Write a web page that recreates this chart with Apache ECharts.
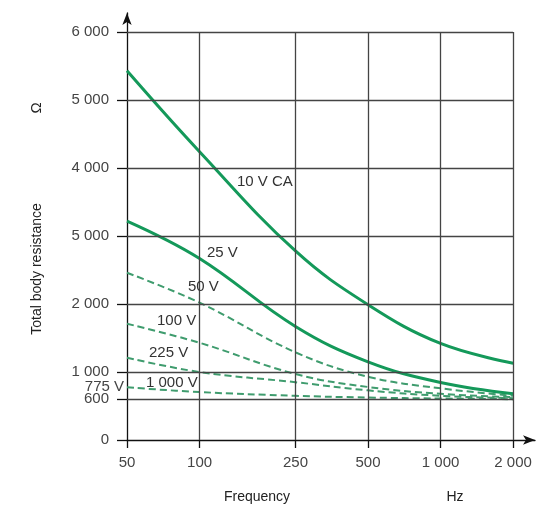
<!DOCTYPE html>
<html><head><meta charset="utf-8">
<script src="https://cdn.jsdelivr.net/npm/echarts@6/dist/echarts.min.js"></script>
<style>html,body{margin:0;padding:0;background:#fff}#c{width:541px;height:509px}</style>
</head><body><div id="c"></div>
<script>
// ---- data ----
const frequencies = [50, 100, 250, 500, 1000, 2000];
const xTickLabels = ['50', '100', '250', '500', '1 000', '2 000'];
const yTickValues = [0, 600, 775, 1000, 2000, 3000, 4000, 5000, 6000];
const yTickLabels = ['0', '600', '775 V', '1 000', '2 000', '5 000', '4 000', '5 000', '6 000'];
const yTickMarks = [0, 600, 1000, 2000, 3000, 4000, 5000, 6000];
const gridYValues = [600, 1000, 2000, 3000, 4000, 5000, 6000];
const gridXValues = [100, 250, 500, 1000, 2000];
const seriesNames = ['10 V CA', '25 V', '50 V', '100 V', '225 V', '1 000 V'];
const r10V = [5430, 4240, 2780, 1990, 1420, 1130];
const r25V = [3220, 2670, 1670, 1150, 845, 680];
const r50V = [2460, 2020, 1290, 930, 760, 650];
const r100V = [1710, 1430, 970, 780, 680, 630];
const r225V = [1210, 1000, 850, 730, 650, 615];
const r1000V = [775, 705, 650, 625, 610, 600];

// ---- build ----
const FONT = 'Liberation Sans, Arial, sans-serif';
const solidColor = '#14995a';
const dashColor = '#3f9c6e';
const allSeries = [r10V, r25V, r50V, r100V, r225V, r1000V];
const pairs = arr => frequencies.map((f, i) => [f, arr[i]]);

function nearestIdx(list, v) {
  let best = 0, d = Infinity;
  list.forEach((x, i) => { const dd = Math.abs(x - v) / x; if (dd < d) { d = dd; best = i; } });
  return best;
}

const gridLines = [];
gridYValues.forEach(v => gridLines.push([{ coord: [frequencies[0], v] }, { coord: [frequencies[frequencies.length - 1], v] }]));
gridXValues.forEach(f => gridLines.push([{ coord: [f, 0] }, { coord: [f, 6000] }]));

const series = [{
  type: 'line', data: [], z: 1, silent: true,
  markLine: {
    silent: true, symbol: ['none', 'none'], label: { show: false },
    lineStyle: { color: '#444', width: 1.3, type: 'solid' },
    data: gridLines, animation: false
  }
}];
allSeries.forEach((arr, i) => {
  const solid = i < 2;
  series.push({
    name: seriesNames[i], type: 'line', data: pairs(arr), smooth: 0.4,
    showSymbol: false, symbol: 'none', z: 3,
    lineStyle: solid ? { color: solidColor, width: 3 } : { color: dashColor, width: 2, type: [7, 4] }
  });
});

const textLabels = [
  { text: '10 V CA', x: 237, y: 182 },
  { text: '25 V', x: 207, y: 253 },
  { text: '50 V', x: 188, y: 287 },
  { text: '100 V', x: 157, y: 321 },
  { text: '225 V', x: 149, y: 353 },
  { text: '1 000 V', x: 146, y: 383 }
];

const graphic = textLabels.map(t => ({
  type: 'text', x: t.x, y: t.y, z: 10,
  style: { text: t.text, fill: '#333', font: '15px ' + FONT, verticalAlign: 'middle', align: 'left' }
}));
graphic.push({ type: 'text', x: 257, y: 497, style: { text: 'Frequency', fill: '#222', font: '14px ' + FONT, align: 'center', verticalAlign: 'middle' } });
graphic.push({ type: 'text', x: 455, y: 497, style: { text: 'Hz', fill: '#222', font: '14px ' + FONT, align: 'center', verticalAlign: 'middle' } });
graphic.push({ type: 'text', x: 37, y: 269, rotation: Math.PI / 2, style: { text: 'Total body resistance', fill: '#222', font: '14px ' + FONT, align: 'center', verticalAlign: 'middle' } });
graphic.push({ type: 'text', x: 37, y: 108, rotation: Math.PI / 2, style: { text: 'Ω', fill: '#222', font: '15px ' + FONT, align: 'center', verticalAlign: 'middle' } });

const chart = echarts.init(document.getElementById('c'), null, { renderer: 'canvas' });
chart.setOption({
  animation: false,
  backgroundColor: '#fff',
  grid: { left: 127, right: 6, top: 13, bottom: 69, containLabel: false },
  xAxis: {
    type: 'log', logBase: 10, min: 50, max: 2465,
    axisLine: { show: true, symbol: ['none', 'arrow'], symbolSize: [7, 12], lineStyle: { color: '#111', width: 1.3 } },
    axisTick: { show: true, inside: false, length: 8, customValues: frequencies, lineStyle: { color: '#111', width: 1.3 } },
    axisLabel: {
      show: true, customValues: frequencies, margin: 15, color: '#444', fontSize: 15, fontFamily: FONT,
      formatter: v => xTickLabels[nearestIdx(frequencies, v)]
    },
    splitLine: { show: false }, minorTick: { show: false }, minorSplitLine: { show: false }
  },
  yAxis: {
    type: 'value', min: 0, max: 6280,
    axisLine: { show: true, symbol: ['none', 'arrow'], symbolSize: [7, 12], lineStyle: { color: '#111', width: 1.3 } },
    axisTick: { show: true, inside: false, length: 10, customValues: yTickMarks, lineStyle: { color: '#111', width: 1.3 } },
    axisLabel: {
      show: true, customValues: yTickValues, margin: 3, color: '#444', fontSize: 15, fontFamily: FONT,
      formatter: v => {
        const i = yTickValues.indexOf(v);
        const s = i >= 0 ? yTickLabels[i] : '';
        return v === 775 ? s : '{p|' + s + '}';
      },
      rich: { p: { padding: [0, 15, 0, 0], color: '#444', fontSize: 15, fontFamily: FONT } }
    },
    splitLine: { show: false }
  },
  series: series,
  graphic: graphic
});
</script></body></html>
